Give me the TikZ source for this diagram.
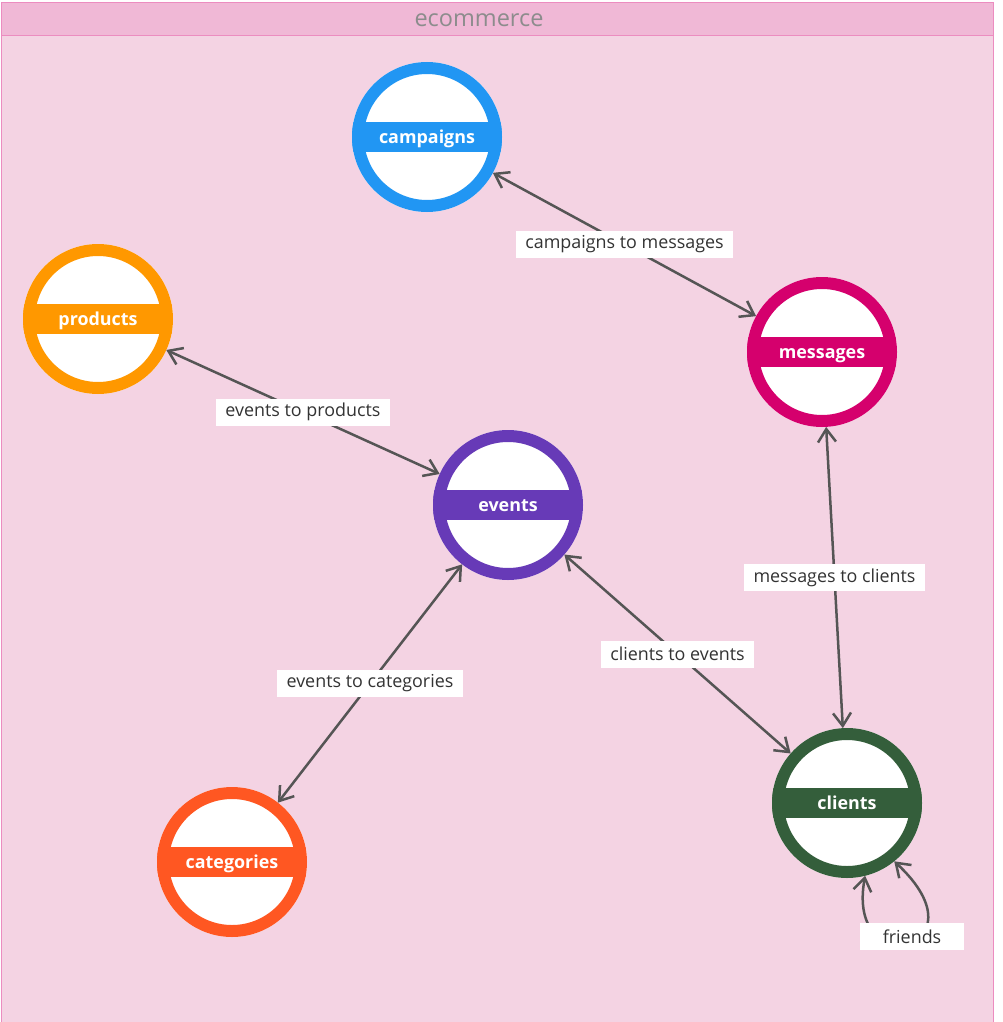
\documentclass[tikz,border=0pt]{standalone}
\usepackage{fontspec}
\setmainfont{Open Sans}
\usetikzlibrary{arrows.meta}
\definecolor{bodypink}{HTML}{F4D3E3}
\definecolor{titlepink}{HTML}{F0B8D6}
\definecolor{borderpink}{HTML}{EC8CC0}
\definecolor{titlegray}{HTML}{8C8C8C}
\definecolor{edgegray}{HTML}{555555}
\definecolor{labeltext}{HTML}{333333}
\definecolor{cblue}{HTML}{2196F3}
\definecolor{corange}{HTML}{FF9800}
\definecolor{cmagenta}{HTML}{D5006D}
\definecolor{cpurple}{HTML}{673AB7}
\definecolor{cred}{HTML}{FF5722}
\definecolor{cgreen}{HTML}{345E3B}
\tikzset{
  ent/.style={circle, minimum size=150pt, inner sep=0pt, outer sep=0pt, fill=white,
    text=white, font=\fontsize{17.9}{20}\selectfont\bfseries, text height=15pt, text depth=2pt,
    path picture={
      \fill[#1] ([yshift=-15pt]path picture bounding box.west) rectangle ([yshift=15pt]path picture bounding box.east);
      \draw[#1, line width=24pt] (path picture bounding box.center) circle[radius=75pt];
    }},
  rel/.style={draw=edgegray, line width=2.5pt, {Straight Barb[length=13pt,width=18pt]}-{Straight Barb[length=13pt,width=18pt]}},
  lbl/.style={fill=white, text=labeltext, font=\fontsize{17.9}{20}\selectfont, inner xsep=9.5pt, inner ysep=0pt,
    minimum height=27pt, minimum width=104pt},
}
\begin{document}
\begin{tikzpicture}[x=1pt,y=-1pt]
\useasboundingbox (0,0) rectangle (1002,1022);
\fill[white] (0,0) rectangle (1002,1022);
\fill[bodypink] (1,3) rectangle (993,1022);
\fill[titlepink] (1,3) rectangle (993,36);
\draw[borderpink, line width=1pt] (1,1030) -- (1,3) -- (993,3) -- (993,1030);
\draw[borderpink, line width=1pt] (1,36) -- (993,36);
\node[text=titlegray, font=\fontsize{23.5}{26}\selectfont] (title) at (479,20.5) {ecommerce};

\node[ent=cblue] (campaigns) at (427,137) {campaigns};
\node[ent=corange] (products) at (98,319) {products};
\node[ent=cmagenta] (messages) at (822,352) {messages};
\node[ent=cpurple] (events) at (508,505) {events};
\node[ent=cred] (categories) at (232,862) {categories};
\node[ent=cgreen] (clients) at (847,803) {clients};

\draw[rel] (campaigns) -- (messages) node[lbl, midway] {campaigns to messages};
\draw[rel] (products) -- (events) node[lbl, midway] {events to products};
\draw[rel] (categories) -- (events) node[lbl, midway] {events to categories};
\draw[rel] (events) -- (clients) node[lbl, midway] {clients to events};
\draw[rel] (messages) -- (clients) node[lbl, midway] {messages to clients};
\draw[rel] (clients.-76) .. controls (845,985) and (990,950) .. (clients.-51)
  node[lbl, pos=0.5, xshift=4pt, yshift=6pt] {friends};
\end{tikzpicture}
\end{document}
